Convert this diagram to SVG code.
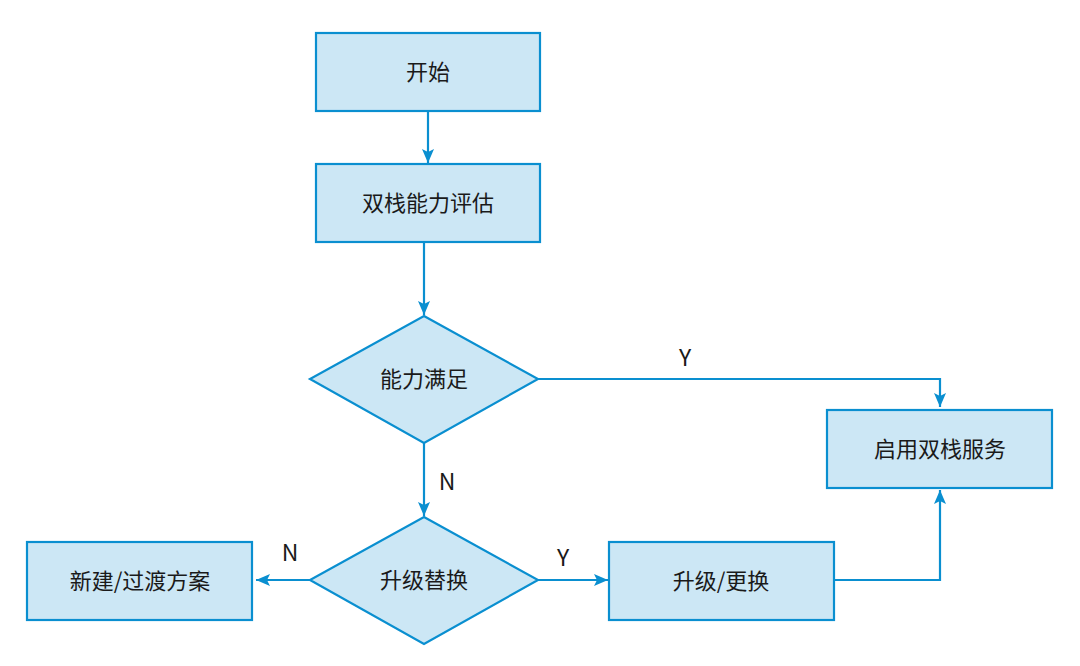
<svg xmlns="http://www.w3.org/2000/svg" width="1080" height="666" viewBox="0 0 1080 666">
<style>
.box{fill:#cce7f5;stroke:#0a8fd0;stroke-width:2.2}
.lbl{font-family:"Noto Sans CJK SC","Noto Sans",sans-serif;font-size:22px;fill:#1a1a1a;text-anchor:middle}
.yn{font-family:"Noto Sans CJK SC","Noto Sans",sans-serif;font-size:23px;fill:#1a1a1a;text-anchor:middle}
.conn{fill:none;stroke:#0a8fd0;stroke-width:2.2}
</style>
<defs>
<marker id="arr" markerUnits="userSpaceOnUse" markerWidth="15" markerHeight="13" refX="14" refY="6.5" orient="auto">
<path d="M0,0.5 L14,6.5 L0,12.5 L3,6.5 z" fill="#0a8fd0"/>
</marker>
</defs>
<rect width="1080" height="666" fill="#ffffff"/>
<g id="connectors">
<path class="conn" d="M428,111 L428,163" marker-end="url(#arr)"/>
<path class="conn" d="M424,242 L424,315" marker-end="url(#arr)"/>
<path class="conn" d="M538,379 L940,379 L940,407" marker-end="url(#arr)"/>
<path class="conn" d="M424,443 L424,516" marker-end="url(#arr)"/>
<path class="conn" d="M310,580 L256,580" marker-end="url(#arr)"/>
<path class="conn" d="M538,580 L608,580" marker-end="url(#arr)"/>
<path class="conn" d="M834,580 L940,580 L940,490" marker-end="url(#arr)"/>
<text class="yn" x="685" y="366">Y</text>
<text class="yn" x="447" y="490">N</text>
<text class="yn" x="290" y="561">N</text>
<text class="yn" x="563" y="566">Y</text>
</g>
<g id="start">
<rect class="box" x="316" y="33" width="224" height="78"/>
<text class="lbl" x="428" y="80">开始</text>
</g>
<g id="assess">
<rect class="box" x="316" y="164" width="224" height="78"/>
<text class="lbl" x="428" y="211">双栈能力评估</text>
</g>
<g id="capable">
<polygon class="box" points="424,316 538,379 424,443 310,379"/>
<text class="lbl" x="424" y="387">能力满足</text>
</g>
<g id="enable">
<rect class="box" x="827" y="410" width="225" height="78"/>
<text class="lbl" x="940" y="457">启用双栈服务</text>
</g>
<g id="upgrade-decision">
<polygon class="box" points="424,517 538,580 424,644 310,580"/>
<text class="lbl" x="424" y="588">升级替换</text>
</g>
<g id="new-plan">
<rect class="box" x="27" y="542" width="225" height="78"/>
<text class="lbl" x="140" y="589">新建/过渡方案</text>
</g>
<g id="upgrade">
<rect class="box" x="609" y="542" width="225" height="78"/>
<text class="lbl" x="721" y="589">升级/更换</text>
</g>
</svg>
